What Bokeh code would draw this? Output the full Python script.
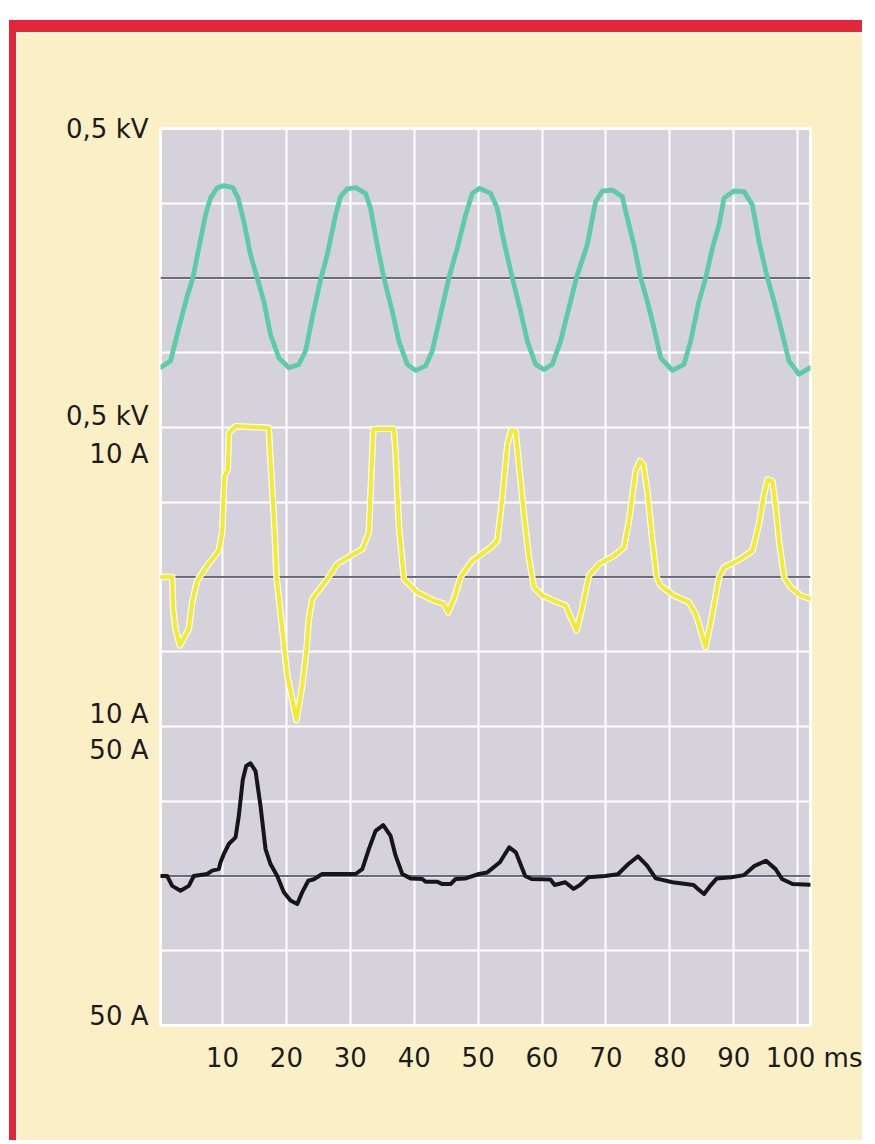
from bokeh.plotting import figure
from bokeh.models import Range1d, FixedTicker, Span
from bokeh.embed import file_html
from bokeh.resources import INLINE

# ---------------- data ----------------
x_ticks = [10, 20, 30, 40, 50, 60, 70, 80, 90, 100]
x_unit = "ms"
y_labels = ["0,5 kV", "0,5 kV", "10 A", "10 A", "50 A", "50 A"]

# voltage trace (ms, kV)
volt_t = [0.45, 1.86, 3.17, 4.47, 5.36, 6.3, 7.34, 8.12, 9.17, 10.21, 11.61, 12.45, 13.34, 14.38, 15.43,
          16.47, 17.51, 18.82, 20.38, 21.95, 23.0, 24.04, 25.34, 26.39, 27.69, 28.47, 29.52, 30.82, 32.38, 33.17,
          34.21, 35.25, 36.56, 37.6, 38.91, 40.21, 41.78, 42.82, 44.12, 45.42, 46.73, 48.04, 49.08, 50.25, 51.95,
          53.0, 54.03, 55.35, 56.64, 57.69, 58.99, 60.29, 61.6, 62.9, 64.2, 65.52, 67.08, 68.38, 69.43, 71.0,
          72.56, 73.08, 74.38, 75.43, 76.47, 77.51, 78.56, 80.39, 82.2, 83.25, 84.55, 85.6, 86.65, 87.69, 88.47,
          90.03, 91.6, 92.91, 93.94, 95.26, 96.3, 97.61, 98.64, 100.2, 101.93]
volt_kv = [-0.298, -0.278, -0.167, -0.061, 0.0, 0.1, 0.211, 0.267, 0.302, 0.309, 0.302, 0.267, 0.189, 0.078, 0.0,
           -0.078, -0.189, -0.267, -0.3, -0.289, -0.244, -0.133, -0.006, 0.078, 0.211, 0.272, 0.298, 0.302, 0.283, 0.233,
           0.111, 0.0, -0.111, -0.211, -0.289, -0.309, -0.294, -0.244, -0.122, 0.0, 0.1, 0.211, 0.283, 0.3, 0.283,
           0.233, 0.122, 0.0, -0.111, -0.211, -0.289, -0.306, -0.289, -0.211, -0.1, 0.011, 0.111, 0.256, 0.291, 0.294,
           0.272, 0.222, 0.111, 0.0, -0.078, -0.167, -0.267, -0.309, -0.289, -0.211, -0.078, 0.0, 0.1, 0.178, 0.267,
           0.291, 0.289, 0.244, 0.122, 0.0, -0.078, -0.189, -0.278, -0.322, -0.3]

# current trace, 10 A scale (ms, A)
yel_t = [0.3, 2.13, 2.28, 2.65, 3.32, 4.73, 5.26, 6.04, 7.6, 9.42, 9.95, 10.31, 10.83, 10.99, 12.04,
         17.25, 17.41, 18.14, 18.45, 19.35, 20.13, 21.58, 22.48, 23.15, 23.51, 24.04, 26.39, 27.95, 30.04, 31.87,
         32.9, 33.59, 34.21, 36.81, 37.08, 37.6, 38.38, 40.47, 43.07, 44.64, 45.33, 46.2, 47.25, 49.08, 51.95,
         53.0, 53.78, 54.56, 55.18, 55.86, 56.38, 57.16, 57.94, 58.73, 60.04, 62.39, 63.69, 64.47, 65.41, 66.3,
         67.34, 68.9, 71.25, 72.81, 73.6, 74.64, 75.32, 75.85, 76.47, 77.26, 77.93, 78.56, 80.64, 82.99, 84.04,
         85.6, 86.65, 87.69, 88.47, 90.56, 92.91, 93.94, 94.63, 95.26, 96.04, 96.56, 97.08, 97.86, 98.9, 100.47,
         102.0]
yel_a = [0.0, 0.0, -2.13, -3.47, -4.58, -3.47, -1.69, -0.24, 0.76, 1.76, 2.98, 6.76, 7.2, 9.64, 10.09,
         9.98, 8.53, 3.22, 0.0, -3.47, -6.58, -9.58, -7.25, -4.8, -2.8, -1.47, -0.13, 0.87, 1.42, 1.87,
         2.98, 9.87, 9.91, 9.91, 8.31, 3.42, -0.13, -1.02, -1.58, -1.8, -2.36, -1.47, 0.0, 1.09, 1.98,
         2.42, 5.31, 8.87, 9.8, 9.75, 7.53, 4.2, 1.31, -0.69, -1.24, -1.69, -1.91, -2.69, -3.58, -2.02,
         0.09, 0.87, 1.42, 1.98, 3.76, 7.09, 7.76, 7.53, 5.75, 2.42, 0.0, -0.58, -1.24, -1.69, -2.47,
         -4.69, -2.47, 0.0, 0.64, 1.09, 1.76, 3.53, 5.31, 6.53, 6.42, 4.64, 2.42, 0.0, -0.69, -1.24,
         -1.47]

# current trace, 50 A scale (ms, A)
blk_t = [0.03, 1.35, 2.13, 3.43, 4.73, 5.51, 7.6, 8.39, 9.42, 9.69, 10.2, 10.99, 12.04, 12.55, 13.18,
         13.71, 14.38, 15.17, 15.95, 16.73, 17.51, 18.56, 19.6, 20.64, 21.69, 22.48, 23.42, 24.29, 25.6, 30.82,
         31.87, 32.9, 33.95, 35.15, 36.3, 37.08, 38.13, 39.43, 41.26, 41.78, 43.61, 44.39, 45.69, 46.47, 48.04,
         50.12, 51.43, 53.4, 54.86, 55.9, 57.36, 58.35, 61.31, 61.97, 63.63, 64.94, 65.93, 67.24, 69.87, 71.86,
         73.5, 75.02, 76.46, 77.78, 80.42, 83.71, 84.36, 85.35, 86.35, 87.34, 89.64, 91.61, 93.26, 95.04, 96.54,
         97.54, 99.19, 101.83]
blk_a = [0.0, 0.0, -3.3, -4.9, -3.3, 0.0, 0.67, 1.8, 2.3, 4.6, 7.3, 10.7, 12.9, 20.1, 32.3,
         36.8, 37.7, 35.1, 23.4, 9.0, 4.0, 0.0, -5.4, -8.2, -9.4, -5.4, -1.6, -1.1, 0.67, 0.67,
         2.3, 9.0, 15.1, 17.0, 13.4, 6.8, 0.67, -0.8, -1.0, -1.9, -1.9, -2.7, -2.7, -1.0, -0.8,
         0.67, 1.2, 4.6, 9.6, 7.9, 0.0, -1.0, -1.2, -3.0, -2.1, -4.3, -3.0, -0.4, 0.0, 0.6,
         4.0, 6.6, 3.4, -0.8, -2.1, -3.0, -4.3, -6.0, -3.2, -0.8, -0.4, 0.3, 3.4, 5.1, 2.3,
         -1.0, -2.7, -2.9]

# ---------------- layout ----------------
W, H = 853, 1120
ML, MT = 144, 96
FW, FH = 650, 897
MR, MB = W - ML - FW, H - MT - FH

CREAM = "#FBEFC6"
RED = "#E4263B"
PANEL = "#D6D2DB"
ZERO = "#6A6C7C"
FONT = "DejaVu Sans"

p = figure(width=W, height=H, output_backend="svg", toolbar_location=None,
           x_range=Range1d(0.3, 102.0), y_range=Range1d(0, 12),
           min_border_left=ML, min_border_right=MR, min_border_top=MT, min_border_bottom=MB)
p.styles = {"margin-left": "9px", "margin-top": "20px",
            "border-left": "7px solid " + RED, "border-top": "12px solid " + RED}
p.extra_y_ranges = {
    "volt": Range1d(-2.5, 0.5),     # 0.25 kV / division, zero at division 10
    "amp10": Range1d(-30, 30),      # 5 A / division, zero at division 6
    "amp50": Range1d(-50, 250),     # 25 A / division, zero at division 2
}
p.border_fill_color = CREAM
p.background_fill_color = PANEL
p.outline_line_color = "white"
p.outline_line_width = 3

# grid
p.xgrid.ticker = FixedTicker(ticks=x_ticks)
p.ygrid.ticker = FixedTicker(ticks=list(range(1, 12)))
for g in (p.xgrid, p.ygrid):
    g.grid_line_color = "white"
    g.grid_line_width = 2
    g.grid_line_alpha = 1.0

# channel zero lines
for rn in ("volt", "amp10", "amp50"):
    p.add_layout(Span(location=0, dimension="width", y_range_name=rn,
                      line_color=ZERO, line_width=2, level="underlay"))

# axes
p.xaxis.ticker = FixedTicker(ticks=x_ticks)
p.xaxis.major_label_overrides = {x_ticks[-1]: "\u00a0" * 6 + str(x_ticks[-1]) + " " + x_unit}
y_label_pos = [12.0, 8.15, 7.65, 4.17, 3.68, 0.13]
p.yaxis.ticker = FixedTicker(ticks=y_label_pos)
p.yaxis.major_label_overrides = {pos: lab for pos, lab in zip(y_label_pos, y_labels)}
for ax in (p.xaxis, p.yaxis):
    ax.axis_line_color = None
    ax.major_tick_line_color = None
    ax.minor_tick_line_color = None
    ax.major_label_text_font = FONT
    ax.major_label_text_font_size = "26px"
    ax.major_label_text_color = "#1B1B1B"
p.xaxis.major_label_standoff = 11
p.yaxis.major_label_standoff = 6

# traces
p.line(volt_t, volt_kv, y_range_name="volt", line_color="#5CCBA7", line_width=4.8,
       line_join="round", line_cap="round")
p.line(yel_t, yel_a, y_range_name="amp10", line_color="#FFFFFF", line_width=6.5,
       line_join="round", line_cap="round")
p.line(yel_t, yel_a, y_range_name="amp10", line_color="#F2EA38", line_width=4.3,
       line_join="round", line_cap="round")
p.line(blk_t, blk_a, y_range_name="amp50", line_color="#161616", line_width=4,
       line_join="round", line_cap="round")

open("out.html", "w").write(file_html(p, INLINE))
